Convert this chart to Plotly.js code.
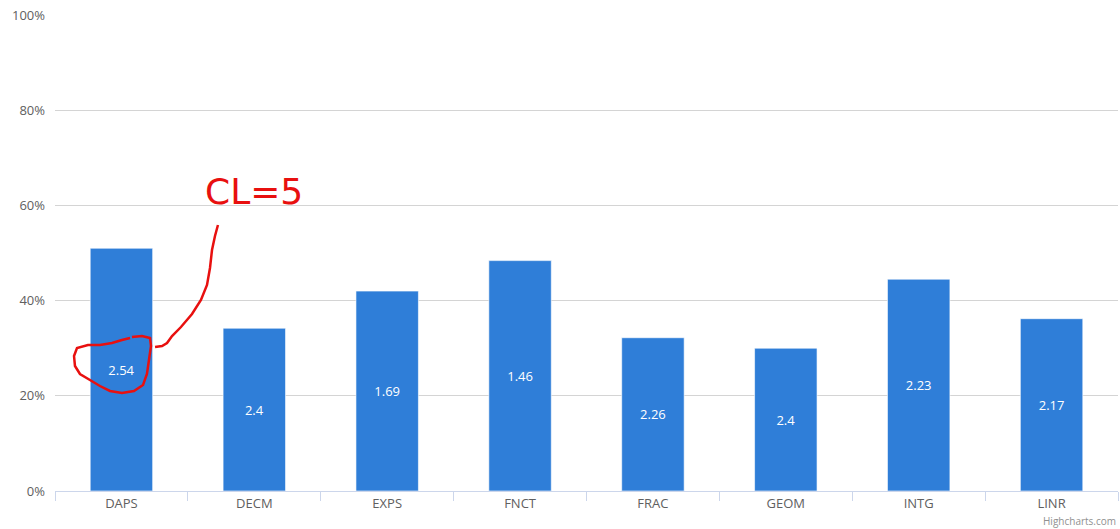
<!DOCTYPE html>
<html>
<head>
<meta charset="utf-8">
<script src="https://cdn.plot.ly/plotly-3.0.1.min.js"></script>
<style>html,body{margin:0;padding:0;background:#fff}#chart{width:1120px;height:529px}</style>
</head>
<body>
<div id="chart"></div>
<script>
const categories = ["DAPS","DECM","EXPS","FNCT","FRAC","GEOM","INTG","LINR"];
const percentValues = [51, 34.2, 42, 48.4, 32.2, 30, 44.5, 36.2];
const labelTexts = ["2.54","2.4","1.69","1.46","2.26","2.4","2.23","2.17"];
const yTickValues = [0,20,40,60,80,100];
const yTickLabels = ["0%","20%","40%","60%","80%","100%"];

const W = 1120, H = 529, ML = 55, MR = 2, MT = 15, MB = 38;
const PW = W - ML - MR, PH = H - MT - MB;
function px(x){ return ((x - ML) / PW).toFixed(4); }
function py(y){ return ((H - MB - y) / PH).toFixed(4); }
function pathFrom(pts){
  return pts.map((p,i)=> (i===0?'M':'L') + px(p[0]) + ',' + py(p[1])).join(' ');
}
const loopPts = [[132,337],[142,336],[150,338],[151,346],[149,360],[147,374],[143,385],[134,391],[122,393],[110,391],[100,386],[90,380],[80,374],[75,366],[74,356],[77,348],[88,345],[100,345],[112,343],[122,340],[130,338]];
const leaderPts = [[155,347],[162,346],[167,343],[172,336],[181,327],[192,314],[201,300],[207,285],[210,268],[212,250],[215,236],[218,225]];

const trace = {
  type: 'bar',
  x: categories,
  y: percentValues,
  text: labelTexts,
  textposition: 'inside',
  insidetextanchor: 'middle',
  textangle: 0,
  textfont: {color: '#ffffff', size: 13, family: 'Open Sans, DejaVu Sans, sans-serif'},
  marker: {color: '#2f7ed8', line: {color: 'rgba(255,255,255,0.6)', width: 1}},
  hoverinfo: 'none',
  cliponaxis: false
};

const layout = {
  width: W, height: H,
  margin: {l: ML, r: MR, t: MT, b: MB},
  paper_bgcolor: '#ffffff', plot_bgcolor: '#ffffff',
  showlegend: false,
  bargap: 0.53,
  font: {family: 'Open Sans, DejaVu Sans, sans-serif', color: '#666666', size: 12},
  xaxis: {
    type: 'category',
    showgrid: false,
    showline: true, linecolor: '#ccd6eb', linewidth: 1,
    ticks: 'outside', tickson: 'boundaries', ticklen: 9, tickcolor: '#ccd6eb',
    tickfont: {size: 13, color: '#606060'},
    zeroline: false
  },
  yaxis: {
    range: [0, 100],
    tickvals: yTickValues,
    ticktext: yTickLabels,
    showgrid: true, gridcolor: '#d4d4d4', gridwidth: 1,
    zeroline: false, showline: false,
    tickfont: {size: 13, color: '#606060'},
    ticklabelstandoff: 9
  },
  shapes: [
    {type: 'path', xref: 'paper', yref: 'paper', path: pathFrom(loopPts), line: {color: '#e8100f', width: 2.5}},
    {type: 'path', xref: 'paper', yref: 'paper', path: pathFrom(leaderPts), line: {color: '#e8100f', width: 2.5}}
  ],
  annotations: [
    {xref: 'paper', yref: 'paper', x: px(203), y: py(192), xanchor: 'left', yanchor: 'middle', showarrow: false,
     text: 'CL=5', font: {family: 'DejaVu Sans, sans-serif', size: 36, color: '#e8100f'}},
    {xref: 'paper', yref: 'paper', x: 1, y: py(521), xanchor: 'right', yanchor: 'middle', showarrow: false,
     text: 'Highcharts.com', font: {size: 10, color: '#909090'}}
  ]
};

Plotly.newPlot('chart', [trace], layout, {displayModeBar: false, staticPlot: true});
</script>
</body>
</html>
